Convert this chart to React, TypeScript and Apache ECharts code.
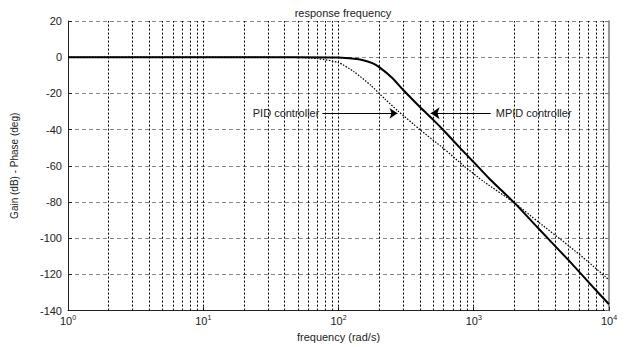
import React, { useEffect, useRef } from "react";
import * as echarts from "echarts";

// Frequency (rad/s) and gain (dB)
const pidFreq = [1, 10, 30, 50, 70, 100, 130, 173, 220, 273, 400, 600, 843, 1200, 2000, 3000, 5000, 7000, 10000];
const pidGain = [0, 0, 0, -0.2, -0.8, -3, -8, -15.5, -23, -29.5, -40, -50.5, -60, -69, -80.5, -91, -104, -113, -123];

const mpidFreq = [1, 10, 50, 100, 130, 150, 178, 200, 250, 300, 400, 500, 600, 800, 1000, 1300, 1600, 2000, 3000, 5000, 7000, 10000];
const mpidGain = [0, 0, 0, -0.2, -0.8, -1.5, -3.3, -5.5, -11.5, -18, -27.5, -34.5, -40.5, -50.5, -58, -67, -73.5, -80.5, -94.5, -112, -124, -136.5];

const decades = [1, 10, 100, 1000];
const multipliers = [1, 2, 3, 4, 5, 6, 7, 8, 9];

const titleText = "response frequency";
const xName = "frequency (rad/s)";
const yName = "Gain (dB) - Phase (deg)";
const pidLabel = "PID controller";
const mpidLabel = "MPID controller";
// annotation arrows: [start freq, end freq, level dB]
const pidArrow = [76, 273, -31];
const mpidArrow = [1336, 480, -31];

export default function App() {
  const ref = useRef<HTMLDivElement>(null);
  useEffect(() => {
    const chart = echarts.init(ref.current!, null, { renderer: "svg" });
    const vLines: any[] = [];
    decades.forEach((d) =>
      multipliers.forEach((m) => {
        if (d * m > 1) vLines.push({ xAxis: d * m });
      })
    );
    const font = "Liberation Sans, Arial, sans-serif";
    const pidData = pidFreq.map((f, i) => [f, pidGain[i]]);
    const mpidData = mpidFreq.map((f, i) => [f, mpidGain[i]]);
    chart.setOption({
      animation: false,
      backgroundColor: "#fff",
      title: {
        text: titleText,
        left: 338,
        top: 2,
        textAlign: "center",
        textStyle: { fontSize: 11, fontWeight: "normal", color: "#222", fontFamily: font },
      },
      grid: { left: 68, right: 17, top: 21, bottom: 34 },
      xAxis: {
        type: "log",
        logBase: 10,
        min: 1,
        max: 10000,
        name: xName,
        nameLocation: "middle",
        nameGap: 19,
        nameTextStyle: { fontSize: 11, color: "#222", fontFamily: font },
        axisLine: { show: true, onZero: false, lineStyle: { color: "#222", width: 1 } },
        axisTick: { show: true, inside: true, length: 4, lineStyle: { color: "#222" } },
        splitLine: { show: false },
        axisLabel: {
          margin: 3,
          fontFamily: font,
          formatter: (v: number) => `{b|10}{s|${Math.round(Math.log10(v))}}`,
          rich: {
            b: { fontSize: 11, color: "#222", fontFamily: font },
            s: { fontSize: 7, color: "#222", fontFamily: font, padding: [0, 0, 7, 0] },
          },
        },
      },
      yAxis: [
        {
          type: "value",
          min: -140,
          max: 20,
          interval: 20,
          name: yName,
          nameLocation: "middle",
          nameGap: 49,
          nameTextStyle: { fontSize: 10, color: "#222", fontFamily: font },
          axisLine: { show: true, onZero: false, lineStyle: { color: "#222", width: 1 } },
          axisTick: { show: true, inside: true, length: 4, lineStyle: { color: "#222" } },
          axisLabel: { fontSize: 11, color: "#222", fontFamily: font, margin: 6 },
          splitLine: { show: true, lineStyle: { type: [4, 3], color: "#888", width: 1 } },
        },
        {
          type: "value",
          min: -140,
          max: 20,
          interval: 20,
          position: "right",
          axisLine: { show: true, onZero: false, lineStyle: { color: "#777", width: 1.5 } },
          axisTick: { show: true, inside: true, length: 4, lineStyle: { color: "#777" } },
          axisLabel: { show: false },
          splitLine: { show: false },
        },
      ],
      series: [
        {
          type: "line",
          data: [],
          z: 1,
          silent: true,
          markLine: {
            silent: true,
            symbol: ["none", "none"],
            label: { show: false },
            lineStyle: { type: [2, 2], color: "#000", width: 1 },
            data: vLines,
          },
        },
        {
          name: "PID",
          type: "line",
          data: pidData,
          showSymbol: false,
          smooth: 0.2,
          z: 3,
          lineStyle: { color: "#000", width: 1.2, type: [1.5, 1.5] },
          markLine: {
            silent: true,
            symbol: ["none", "arrow"],
            symbolSize: 8,
            lineStyle: { type: "solid", color: "#000", width: 1 },
            label: {
              show: true,
              position: "start",
              distance: 3,
              fontSize: 11,
              color: "#222",
              fontFamily: font,
              formatter: pidLabel,
            },
            data: [[{ coord: [pidArrow[0], pidArrow[2]] }, { coord: [pidArrow[1], pidArrow[2]] }]],
          },
        },
        {
          name: "MPID",
          type: "line",
          data: mpidData,
          showSymbol: false,
          smooth: 0.2,
          z: 4,
          lineStyle: { color: "#000", width: 2 },
          markLine: {
            silent: true,
            symbol: ["none", "arrow"],
            symbolSize: 9,
            lineStyle: { type: "solid", color: "#000", width: 1 },
            label: {
              show: true,
              position: "start",
              distance: 5,
              fontSize: 11,
              color: "#222",
              fontFamily: font,
              formatter: mpidLabel,
            },
            data: [[{ coord: [mpidArrow[0], mpidArrow[2]] }, { coord: [mpidArrow[1], mpidArrow[2]] }]],
          },
        },
      ],
    });
    return () => chart.dispose();
  }, []);
  return <div ref={ref} style={{ position: "fixed", left: 0, top: 0, width: 626, height: 347 }} />;
}
